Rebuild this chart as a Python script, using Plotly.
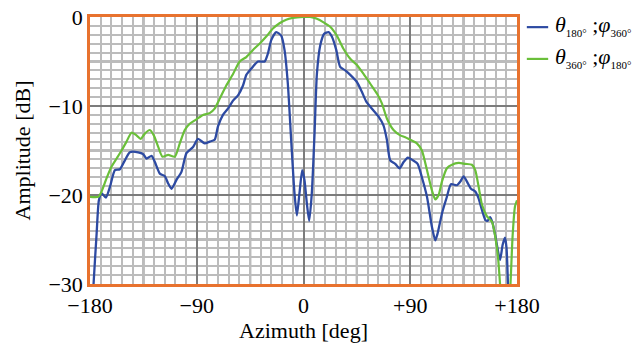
import plotly.graph_objects as go

# Azimuth cut, theta 180 deg / phi 360 deg (blue)
az_a = [-178, -177, -174.4, -172.5, -170.2, -166.6, -163.2, -159, -154.8, -150.6, -146.4,
        -139.4, -135.2, -132.3, -128.1, -125.3, -121.1, -116.9, -114.1, -111.3, -107.1,
        -102.9, -98.7, -93.1, -88.9, -83.3, -79.1, -74.9, -72.1, -67.9, -63.7, -59.4,
        -55.2, -51.0, -48.2, -44.0, -38.4, -32.8, -30.0, -27.2, -23.0, -18.8, -16.0,
        -13.2, -10.4, -7.6, -5.6, -3.4, -1.1, 0.8, 2.8, 4.8, 7.0, 9.3, 11.3, 14.1,
        17.4, 21.1, 23.9, 27.6, 30.9, 35.2, 39.4, 45.0, 49.2, 52.9, 57.7, 63.3, 67.5,
        70.3, 73.1, 77.3, 81.0, 84.4, 88.0, 92.2, 96.2, 99.8, 104.1, 108.3, 111.1,
        113.1, 116.7, 120.9, 124.3, 129.4, 132.2, 135.0, 137.8, 141.2, 144.8, 147.7,
        150.5, 153.3, 155.2, 157.3, 159.5, 162.0, 165.7, 167.9, 169.9, 171.2, 172.4,
        173.5]
amp_a = [-33, -30, -24.3, -20.6, -19.8, -20.3, -19.1, -17.2, -17.1, -16.1, -15.2,
         -15.2, -15.4, -15.9, -15.6, -16.3, -17.6, -17.9, -18.7, -19.3, -18.3,
         -17.4, -15.3, -14.6, -13.7, -14.2, -14.0, -13.8, -12.3, -11.0, -10.3, -9.4,
         -8.8, -7.7, -6.5, -5.8, -5.0, -5.0, -4.1, -2.6, -1.7, -2.1, -3.7,
         -7.5, -13.8, -19.8, -22.3, -19.8, -17.2, -18.3, -20.9, -22.9, -19.8, -13.1, -6.4, -3.2,
         -1.9, -1.7, -2.2, -3.7, -5.6, -6.0, -6.5, -7.3, -8.4, -9.5, -10.3, -11.2, -12.2,
         -13.8, -16.1, -16.5, -17.0, -16.3, -15.8, -16.1, -16.5, -18.0, -20.2, -23.6, -25.1,
         -24.3, -22.1, -20.2, -18.8, -18.9, -18.5, -17.9, -18.5, -19.3, -19.6, -20.4,
         -21.7, -22.8, -22.9, -22.5, -23.2, -24.8, -27.3, -25.6, -24.8, -26.0, -30.0,
         -33]

# Azimuth cut, theta 360 deg / phi 180 deg (green)
az_b = [-180, -173, -170.2, -166, -161.8, -157.6, -153.4, -149.2, -145.0, -140.8, -137.4,
        -133.8, -129.6, -126.2, -122.5, -118.9, -114.1, -108.5, -104.3, -100.1, -95.9,
        -90.3, -84.7, -79.1, -74.9, -70.7, -65.1, -59.4, -53.8, -48.2, -42.6, -37.0,
        -31.4, -25.8, -20.2, -14.6, -9.0, 0, 5.6, 11.3, 16.9, 22.5, 28.1, 33.8, 39.4,
        45.0, 50.6, 56.3, 61.9, 66.1, 70.3, 75.9, 81.6, 85.8, 90.0, 95.6, 99.8, 104.1,
        108.3, 111.1, 113.9, 116.7, 120.9, 125.2, 130.8, 136.4, 142.0, 144.8, 147.7,
        150.5, 154.7, 158.9, 161.7, 164.0, 165.7, 167.5, 172.5, 174.5, 176.3, 178.3, 180]
amp_b = [-20.2, -20.2, -19.6, -18.1, -16.8, -15.9, -15.0, -14.0, -13.0, -13.3, -13.7,
         -13.1, -12.7, -13.3, -14.6, -15.7, -15.5, -15.7, -14.2, -12.7, -12.0,
         -11.5, -11.0, -10.8, -10.3, -9.2, -7.7, -6.4, -5.0, -4.5, -3.7, -3.0,
         -2.2, -1.3, -0.7, -0.3, -0.1, 0, 0, -0.2, -0.6, -1.1, -2.1, -3.6, -4.7,
         -5.4, -6.4, -7.5, -8.6, -9.7, -11.4, -12.7, -13.3, -13.5, -13.8, -14.2, -15.0, -17.2,
         -19.5, -20.5, -20.0, -18.5, -17.0, -16.6, -16.4, -16.5, -16.6, -17.2, -19.1,
         -21.1, -22.4, -23.0, -24.7, -27.0, -30.0, -34, -34, -30.0, -24.6, -21.3, -20.6]

# labelled ticks
x_tickvals = [-180, -90, 0, 90, 180]
x_ticktext = ["\u2212180", "\u221290", "0", "+90", "+180"]
y_tickvals = [0, -10, -20, -30]
y_ticktext = ["0", "\u221210", "\u221220", "\u221230"]
# unlabelled heavy grid lines between the labelled ones
x_mid_grid = [-135, -45, 45, 135]
y_mid_grid = [-5, -15, -25]

series_names = [
    ("<i>\u03b8</i><sub><span style=\"font-size:11px\">180\u00b0</span></sub>"
     " ;<i>\u03c6</i><sub><span style=\"font-size:11px\">360\u00b0</span></sub>"),
    ("<i>\u03b8</i><sub><span style=\"font-size:11px\">360\u00b0</span></sub>"
     " ;<i>\u03c6</i><sub><span style=\"font-size:11px\">180\u00b0</span></sub>"),
]

BLUE = "#2d4aa2"
GREEN = "#6abf3a"
ORANGE = "#e8722e"
GRID_DARK = "#7c7c7c"
GRID_LIGHT = "#bcbcbc"
SERIF = "Times New Roman, Liberation Serif, Times, serif"

fig = go.Figure()
fig.add_trace(go.Scatter(x=az_a, y=amp_a, mode="lines", name=series_names[0],
                         line=dict(color=BLUE, width=2.3, shape="spline", smoothing=0.6)))
fig.add_trace(go.Scatter(x=az_b, y=amp_b, mode="lines", name=series_names[1],
                         line=dict(color=GREEN, width=2.2, shape="spline", smoothing=0.6)))

shapes = []
for xv in x_mid_grid:
    shapes.append(dict(type="line", xref="x", yref="paper", x0=xv, x1=xv, y0=0, y1=1,
                       layer="between", line=dict(color=GRID_DARK, width=2.2)))
for yv in y_mid_grid:
    shapes.append(dict(type="line", xref="paper", yref="y", x0=0, x1=1, y0=yv, y1=yv,
                       layer="between", line=dict(color=GRID_DARK, width=2.2)))

# legend drawn beside the plot area
annotations = []
legend_rows = [(0.962, BLUE), (0.843, GREEN)]
for (ly, col), label in zip(legend_rows, series_names):
    shapes.append(dict(type="line", xref="paper", yref="paper", x0=1.023, x1=1.073,
                       y0=ly, y1=ly, line=dict(color=col, width=2.2)))
    annotations.append(dict(xref="paper", yref="paper", x=1.084, y=ly + 0.005,
                            xanchor="left", yanchor="middle", showarrow=False,
                            text=label, font=dict(family=SERIF, size=22, color="black")))

fig.update_layout(
    width=644, height=343,
    margin=dict(l=90, r=127, t=17, b=59),
    paper_bgcolor="white", plot_bgcolor="white",
    font=dict(family=SERIF, size=22, color="black"),
    showlegend=False,
    shapes=shapes,
    annotations=annotations,
)

fig.update_xaxes(
    range=[-180, 180], tickmode="array", tickvals=x_tickvals, ticktext=x_ticktext,
    tickfont=dict(family=SERIF, size=22),
    showgrid=True, gridcolor=GRID_DARK, gridwidth=2.2,
    minor=dict(tick0=-180, dtick=9, showgrid=True, gridcolor=GRID_LIGHT, gridwidth=1.6),
    showline=True, mirror=True, linecolor=ORANGE, linewidth=2.5,
    zeroline=False, ticks="", automargin=False,
    title=dict(text="Azimuth [deg]", standoff=4, font=dict(family=SERIF, size=22)),
)
fig.update_yaxes(
    range=[-30, 0], tickmode="array", tickvals=y_tickvals, ticktext=y_ticktext,
    tickfont=dict(family=SERIF, size=22),
    showgrid=True, gridcolor=GRID_DARK, gridwidth=2.2,
    minor=dict(tick0=0, dtick=1, showgrid=True, gridcolor=GRID_LIGHT, gridwidth=1.6),
    showline=True, mirror=True, linecolor=ORANGE, linewidth=2.5,
    zeroline=False, ticks="", automargin=False,
    title=dict(text="Amplitude [dB]", standoff=12, font=dict(family=SERIF, size=22)),
)

fig.write_html("out.html")
